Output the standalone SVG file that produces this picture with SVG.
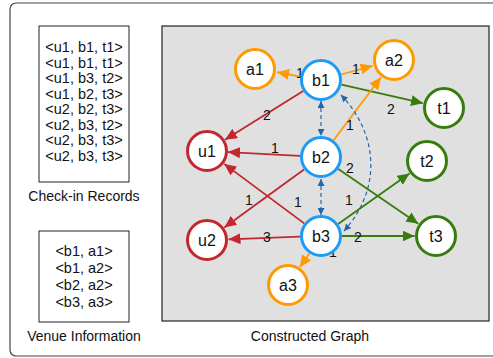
<svg xmlns="http://www.w3.org/2000/svg" width="493" height="358" viewBox="0 0 493 358">
<style>
text{font-family:"Liberation Sans",Arial,sans-serif;fill:#111;}
.rec{font-size:14.5px;text-anchor:middle;}
.cap{font-size:14px;text-anchor:middle;}
.nl{font-size:16px;text-anchor:middle;dominant-baseline:central;}
.el{font-size:14px;text-anchor:middle;dominant-baseline:central;}
.node{fill:#fff;stroke-width:3;}
.b{stroke:#1A9BF5;}
.a{stroke:#FF9900;}
.u{stroke:#C1272D;}
.t{stroke:#367C0F;}
.e{fill:none;stroke-width:1.8;}
.er{stroke:#C1272D;marker-end:url(#mr);}
.eo{stroke:#FF9900;marker-end:url(#mo);}
.eg{stroke:#367C0F;marker-end:url(#mg);}
.ed{fill:none;stroke:#2566A8;stroke-width:1.2;stroke-dasharray:4 3;marker-start:url(#md);marker-end:url(#md);}
</style>
<defs>
<marker id="mr" markerUnits="userSpaceOnUse" markerWidth="13" markerHeight="11" refX="12" refY="5.5" orient="auto"><path d="M0,0 L12,5.5 L0,11 Z" fill="#C1272D"/></marker>
<marker id="mo" markerUnits="userSpaceOnUse" markerWidth="13" markerHeight="11" refX="12" refY="5.5" orient="auto"><path d="M0,0 L12,5.5 L0,11 Z" fill="#FF9900"/></marker>
<marker id="mg" markerUnits="userSpaceOnUse" markerWidth="13" markerHeight="11" refX="12" refY="5.5" orient="auto"><path d="M0,0 L12,5.5 L0,11 Z" fill="#367C0F"/></marker>
<marker id="md" markerUnits="userSpaceOnUse" markerWidth="8" markerHeight="7" refX="7" refY="3.5" orient="auto-start-reverse"><path d="M0,0 L7,3.5 L0,7 Z" fill="#2566A8"/></marker>
</defs>
<rect x="10" y="3" width="500" height="353" rx="6" fill="#fff" stroke="#444" stroke-width="1.2"/>
<g id="checkin">
<rect x="39" y="26" width="90" height="156" fill="#fff" stroke="#222" stroke-width="1"/>
<text class="rec" x="84" y="52">&lt;u1, b1, t1&gt;</text>
<text class="rec" x="84" y="67.5">&lt;u1, b1, t1&gt;</text>
<text class="rec" x="84" y="83">&lt;u1, b3, t2&gt;</text>
<text class="rec" x="84" y="98.5">&lt;u1, b2, t3&gt;</text>
<text class="rec" x="84" y="114">&lt;u2, b2, t3&gt;</text>
<text class="rec" x="84" y="129.5">&lt;u2, b3, t2&gt;</text>
<text class="rec" x="84" y="145">&lt;u2, b3, t3&gt;</text>
<text class="rec" x="84" y="160.5">&lt;u2, b3, t3&gt;</text>
<text class="cap" x="84" y="201">Check-in Records</text>
</g>
<g id="venue">
<rect x="39" y="231" width="90" height="91" fill="#fff" stroke="#222" stroke-width="1"/>
<text class="rec" x="84" y="256">&lt;b1, a1&gt;</text>
<text class="rec" x="84" y="273">&lt;b1, a2&gt;</text>
<text class="rec" x="84" y="290">&lt;b2, a2&gt;</text>
<text class="rec" x="84" y="306.5">&lt;b3, a3&gt;</text>
<text class="cap" x="84" y="341">Venue Information</text>
</g>
<g id="graph-panel">
<rect x="162" y="26" width="327" height="295" fill="#E0E0E0" stroke="#222" stroke-width="1.2"/>
<text class="cap" x="310" y="341">Constructed Graph</text>
</g>
<g id="connectors">
<line class="e eo" x1="300.3" y1="76.6" x2="277" y2="72.2"/>
<line class="e eo" x1="341.2" y1="74.5" x2="372.5" y2="65.8"/>
<line class="e eg" x1="341.5" y1="84.7" x2="423" y2="103.2"/>
<line class="e er" x1="303.2" y1="91.1" x2="225" y2="139.8"/>
<line class="e er" x1="300" y1="155.9" x2="228" y2="152.1"/>
<line class="e eo" x1="333.6" y1="140.2" x2="381" y2="77.3"/>
<line class="e eg" x1="338.3" y1="168.9" x2="418.3" y2="223.8"/>
<line class="e er" x1="304" y1="169.4" x2="224.3" y2="227.4"/>
<line class="e er" x1="304.2" y1="223.4" x2="224.2" y2="163.9"/>
<line class="e er" x1="300" y1="236.7" x2="228.5" y2="239.3"/>
<line class="e eg" x1="338.1" y1="223.9" x2="409.5" y2="173.4"/>
<line class="e eg" x1="342" y1="236" x2="414.5" y2="236"/>
<line class="e eo" x1="309.3" y1="253.4" x2="299.9" y2="267.3"/>
<line class="ed" x1="321" y1="101" x2="321" y2="136"/>
<line class="ed" x1="321" y1="179" x2="321" y2="215"/>
<path class="ed" d="M341,95 C375,130 385,185 344,231"/>
<text class="el" x="300" y="73">1</text>
<text class="el" x="356" y="69">1</text>
<text class="el" x="391" y="109">2</text>
<text class="el" x="267" y="115">2</text>
<text class="el" x="275" y="148">1</text>
<text class="el" x="350" y="125">1</text>
<text class="el" x="350" y="168">2</text>
<text class="el" x="249" y="200">1</text>
<text class="el" x="298" y="202">1</text>
<text class="el" x="267" y="237">3</text>
<text class="el" x="349" y="200">1</text>
<text class="el" x="358" y="237">2</text>
<text class="el" x="333" y="252">1</text>
</g>
<g id="a1"><circle class="node a" cx="255" cy="69" r="19.5"/><text class="nl" x="255" y="69">a1</text></g>
<g id="b1"><circle class="node b" cx="321" cy="80" r="19.5"/><text class="nl" x="321" y="80">b1</text></g>
<g id="a2"><circle class="node a" cx="394" cy="60" r="19.5"/><text class="nl" x="394" y="60">a2</text></g>
<g id="t1"><circle class="node t" cx="444" cy="108" r="19.5"/><text class="nl" x="444" y="108">t1</text></g>
<g id="u1"><circle class="node u" cx="207" cy="151" r="19.5"/><text class="nl" x="207" y="151">u1</text></g>
<g id="b2"><circle class="node b" cx="321" cy="157" r="19.5"/><text class="nl" x="321" y="157">b2</text></g>
<g id="t2"><circle class="node t" cx="427" cy="161" r="19.5"/><text class="nl" x="427" y="161">t2</text></g>
<g id="b3"><circle class="node b" cx="321" cy="236" r="19.5"/><text class="nl" x="321" y="236">b3</text></g>
<g id="u2"><circle class="node u" cx="207" cy="240" r="19.5"/><text class="nl" x="207" y="240">u2</text></g>
<g id="t3"><circle class="node t" cx="436" cy="236" r="19.5"/><text class="nl" x="436" y="236">t3</text></g>
<g id="a3"><circle class="node a" cx="288" cy="285" r="19.5"/><text class="nl" x="288" y="285">a3</text></g>
</svg>
